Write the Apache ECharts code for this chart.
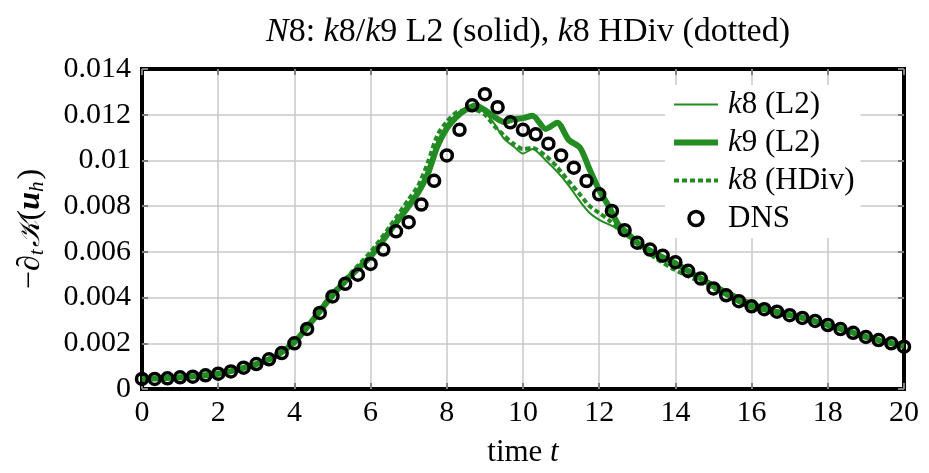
<!DOCTYPE html>
<html><head><meta charset="utf-8">
<script src="https://cdn.jsdelivr.net/npm/echarts@6/dist/echarts.min.js"></script>
<style>html,body{margin:0;padding:0;background:#fff}#c{width:929px;height:473px}</style>
</head><body><div id="c"></div>
<script>
const xTicks = [0,2,4,6,8,10,12,14,16,18,20];
const yTicks = [0,0.002,0.004,0.006,0.008,0.01,0.012,0.014];
const greenT = [0,1,2,2.5,3,3.5,4,4.5,5,5.5,6,6.5,7,7.25,7.5,7.75,8,8.25,8.5,8.75,9,9.25,9.5,9.75,10,10.25,10.6,10.9,11.2,11.5,11.75,12,12.25,12.5,12.75,13,13.5,14,14.5,15,15.5,16,16.5,17,17.5,18,18.5,19,19.5,20];
const k9L2 = [0.00044,0.00051,0.00067,0.00085,0.00109,0.00143,0.00205,0.00305,0.0041,0.0050,0.0058,0.0069,0.0080,0.0086,0.0094,0.0106,0.0114,0.0119,0.01222,0.0124,0.0122,0.0119,0.01168,0.0118,0.01185,0.01195,0.01138,0.01165,0.0109,0.01055,0.0096,0.0087,0.0080,0.0072,0.0068,0.0064,0.0059,0.0055,0.0050,0.0045,0.0040,0.0036,0.00343,0.00323,0.00305,0.0028,0.00255,0.00228,0.00207,0.00188];
const k8L2 = [0.00044,0.00051,0.00067,0.00085,0.00109,0.00143,0.00205,0.00305,0.0041,0.0050,0.0058,0.0069,0.0081,0.0087,0.0096,0.0108,0.0115,0.0120,0.01225,0.0123,0.0121,0.0116,0.01095,0.01062,0.0103,0.0105,0.0100,0.0095,0.0089,0.0082,0.0077,0.0074,0.0072,0.0070,0.0068,0.0064,0.0059,0.0054,0.0050,0.0046,0.00418,0.0038,0.00353,0.0033,0.0031,0.0028,0.00255,0.0023,0.0021,0.0019];
const k8HDiv = [0.00044,0.00051,0.00067,0.00085,0.00109,0.00143,0.00205,0.0031,0.0042,0.0051,0.0060,0.0071,0.0083,0.0089,0.0099,0.0111,0.0117,0.0121,0.0122,0.0122,0.0120,0.0115,0.0111,0.01073,0.0105,0.01055,0.0102,0.0097,0.0091,0.0085,0.0080,0.0077,0.0074,0.0070,0.0067,0.0063,0.0057,0.0052,0.0048,0.0044,0.0040,0.0037,0.0034,0.0032,0.00305,0.0028,0.00255,0.0023,0.0021,0.0019];
const dnsT = Array.from({length:61},(_,i)=>i/3);
const dns = [0.00044,0.00044,0.00047,0.00051,0.00054,0.0006,0.00067,0.00077,0.00093,0.00109,0.0013,0.00157,0.002,0.00263,0.00333,0.00405,0.0046,0.005,0.00547,0.0061,0.0069,0.0073,0.00807,0.00911,0.01022,0.01134,0.01241,0.0129,0.01233,0.01167,0.01134,0.01114,0.01073,0.01022,0.00968,0.0091,0.00852,0.00779,0.00695,0.0064,0.0061,0.00583,0.00555,0.00517,0.00483,0.0044,0.0041,0.00384,0.00362,0.00349,0.00338,0.00323,0.00311,0.00298,0.0028,0.00262,0.00246,0.00228,0.00214,0.002,0.00185];
const seriesNames = ['k8 (L2)','k9 (L2)','k8 (HDiv)','DNS'];

const FONT = 'Liberation Serif';
const GREEN = '#228B22';
const pairs = (t, v) => t.map((x, i) => [x, v[i]]);
const mkRich = (fs) => ({
  i: {fontFamily: FONT, fontStyle: 'italic', fontWeight: 'normal', fontSize: fs, color: '#000'},
  n: {fontFamily: FONT, fontWeight: 'normal', fontSize: fs, color: '#000'}
});
const chart = echarts.init(document.getElementById('c'), null, {renderer: 'canvas'});
const tickStyle = {show: true, inside: true, length: 6, lineStyle: {color: '#808080', width: 2}};
const frame = {show: true, onZero: false, lineStyle: {color: '#000', width: 4, cap: 'square'}};
const noSym = {color: 'rgba(0,0,0,0)', borderWidth: 0, opacity: 0};
chart.setOption({
  animation: false,
  backgroundColor: '#fff',
  title: {
    text: '{i|N}{n|8: }{i|k}{n|8/}{i|k}{n|9 L2 (solid), }{i|k}{n|8 HDiv (dotted)}',
    left: 523, top: 10, textAlign: 'center',
    textStyle: {fontWeight: 'normal', rich: mkRich(34)}
  },
  grid: {left: 142, right: 25, top: 69, bottom: 84},
  legend: {
    orient: 'vertical', left: 665, top: 85, itemWidth: 44, itemHeight: 14, itemGap: 7,
    backgroundColor: '#fff', padding: [4, 6, 4, 6],
    data: [
      {name: seriesNames[0], itemStyle: noSym, lineStyle: {color: GREEN, width: 2, type: 'solid'}},
      {name: seriesNames[1], itemStyle: noSym, lineStyle: {color: GREEN, width: 6, type: 'solid'}},
      {name: seriesNames[2], itemStyle: noSym, lineStyle: {color: GREEN, width: 4, type: [5, 3]}},
      {name: seriesNames[3], icon: 'circle', itemStyle: {color: 'rgba(0,0,0,0)', borderColor: '#000', borderWidth: 3.5}}
    ],
    formatter: n => n.charAt(0) === 'k' ? '{i|k}{n|' + n.slice(1) + '}' : '{n|' + n + '}',
    textStyle: {fontFamily: FONT, fontSize: 31, lineHeight: 30, color: '#000', padding: [0, 0, 0, 5], rich: mkRich(31)},
  },
  xAxis: [{
    type: 'value', min: xTicks[0], max: xTicks[xTicks.length - 1], interval: xTicks[1] - xTicks[0],
    name: '{n|time }{i|t}', nameLocation: 'middle', nameGap: 48,
    nameTextStyle: {rich: mkRich(31)},
    axisLine: frame, axisTick: tickStyle,
    axisLabel: {fontFamily: FONT, fontSize: 30, color: '#000', margin: 9},
    splitLine: {show: true, lineStyle: {color: '#c8c8c8', width: 1.5}}
  }, {
    type: 'value', position: 'top', min: xTicks[0], max: xTicks[xTicks.length - 1], interval: xTicks[1] - xTicks[0],
    axisLine: frame, axisTick: tickStyle, axisLabel: {show: false}, splitLine: {show: false}
  }],
  yAxis: [{
    type: 'value', min: yTicks[0], max: yTicks[yTicks.length - 1], interval: yTicks[1] - yTicks[0],
    name: '{n|−∂}{s|t}{c|𝒦}{n|(}{b|u}{s|h}{n|)}', nameLocation: 'middle', nameGap: 94,
    nameTextStyle: {rich: {
      n: {fontFamily: FONT, fontSize: 32, color: '#000'},
      s: {fontFamily: FONT, fontStyle: 'italic', fontSize: 21, color: '#000', verticalAlign: 'bottom', padding: [13, 2, 0, 0]},
      c: {fontFamily: 'DejaVu Serif', fontStyle: 'italic', fontSize: 29, color: '#000'},
      b: {fontFamily: FONT, fontStyle: 'italic', fontWeight: 'bold', fontSize: 32, color: '#000'}
    }},
    axisLine: frame, axisTick: tickStyle,
    axisLabel: {fontFamily: FONT, fontSize: 30, color: '#000', margin: 11},
    splitLine: {show: true, lineStyle: {color: '#c8c8c8', width: 1.5}}
  }, {
    type: 'value', position: 'right', min: yTicks[0], max: yTicks[yTicks.length - 1], interval: yTicks[1] - yTicks[0],
    axisLine: frame, axisTick: tickStyle, axisLabel: {show: false}, splitLine: {show: false}
  }],
  series: [
    {name: seriesNames[0], type: 'line', data: pairs(greenT, k8L2), showSymbol: false, symbol: 'none', smooth: 0.25,
     lineStyle: {color: GREEN, width: 2}, itemStyle: {color: GREEN}, z: 3},
    {name: seriesNames[1], type: 'line', data: pairs(greenT, k9L2), showSymbol: false, symbol: 'none', smooth: 0.25,
     lineStyle: {color: GREEN, width: 6}, itemStyle: {color: GREEN}, z: 2},
    {name: seriesNames[2], type: 'line', data: pairs(greenT, k8HDiv), showSymbol: false, symbol: 'none', smooth: 0.25,
     lineStyle: {color: GREEN, width: 4, type: [5, 3]}, itemStyle: {color: GREEN}, z: 3},
    {name: seriesNames[3], type: 'scatter', data: pairs(dnsT, dns), symbol: 'circle', symbolSize: 11, clip: false,
     itemStyle: {color: 'rgba(0,0,0,0)', borderColor: '#000', borderWidth: 3.5, opacity: 1}, z: 5}
  ]
});
</script></body></html>
